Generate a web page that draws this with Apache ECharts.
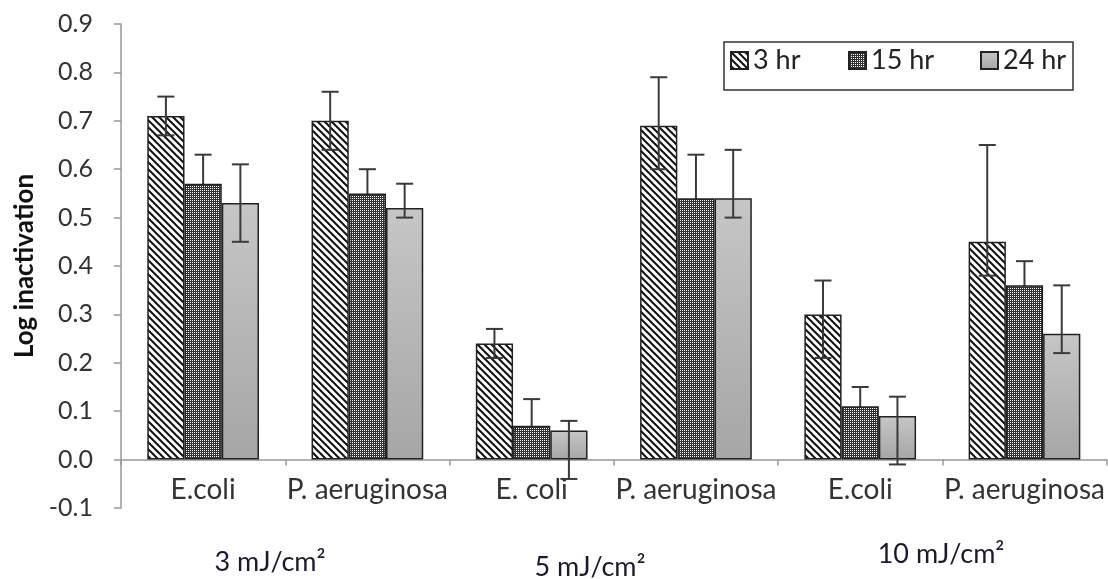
<!DOCTYPE html>
<html>
<head>
<meta charset="utf-8">
<script src="https://cdn.jsdelivr.net/npm/echarts@6/dist/echarts.min.js"></script>
<style>
  html, body { margin: 0; padding: 0; background: #fff; }
  #chart { width: 1108px; height: 579px; }
</style>
</head>
<body>
<div id="chart"></div>
<script>
// Organisms tested at each UV dose
const categories = ['E.coli', 'P. aeruginosa', 'E. coli', 'P. aeruginosa', 'E.coli', 'P. aeruginosa'];
const doseLabels = ['3 mJ/cm²', '5 mJ/cm²', '10 mJ/cm²'];
const seriesNames = ['3 hr', '15 hr', '24 hr'];

// Mean log inactivation
const hr3 = [0.71, 0.70, 0.24, 0.69, 0.30, 0.45];
const hr15 = [0.57, 0.55, 0.07, 0.54, 0.11, 0.36];
const hr24 = [0.53, 0.52, 0.06, 0.54, 0.09, 0.26];

// Error bar bounds (lower, upper)
const hr3Low = [0.67, 0.64, 0.21, 0.60, 0.21, 0.38];
const hr3High = [0.75, 0.76, 0.27, 0.79, 0.37, 0.65];
const hr15Low = [0.51, 0.50, 0.015, 0.45, 0.07, 0.31];
const hr15High = [0.63, 0.60, 0.125, 0.63, 0.15, 0.41];
const hr24Low = [0.45, 0.50, -0.04, 0.50, -0.01, 0.22];
const hr24High = [0.61, 0.57, 0.08, 0.64, 0.13, 0.36];

// Y axis range
const yMin = -0.1, yMax = 0.9, yStep = 0.1;

const FONT = 'Lato, "Open Sans", sans-serif';

// Fill patterns
function stripeTile() {
  const s = 7;
  const c = document.createElement('canvas');
  c.width = s; c.height = s;
  const g = c.getContext('2d');
  g.fillStyle = '#fff'; g.fillRect(0, 0, s, s);
  g.strokeStyle = '#111'; g.lineWidth = 2;
  g.beginPath();
  g.moveTo(-1, -1); g.lineTo(s + 1, s + 1);
  g.moveTo(s - 2, -2); g.lineTo(s + 2, 2);
  g.moveTo(-2, s - 2); g.lineTo(2, s + 2);
  g.stroke();
  return c;
}
function dotTile() {
  const c = document.createElement('canvas');
  c.width = 2; c.height = 2;
  const g = c.getContext('2d');
  g.fillStyle = '#333'; g.fillRect(0, 0, 2, 2);
  g.fillStyle = '#fff'; g.fillRect(0, 0, 1, 1);
  return c;
}

const fills = [
  { image: stripeTile(), repeat: 'repeat' },
  { image: dotTile(), repeat: 'repeat' },
  { type: 'linear', x: 0, y: 0, x2: 0, y2: 1,
    colorStops: [{ offset: 0, color: '#c6c6c6' }, { offset: 1, color: '#a6a6a6' }] }
];

const values = [hr3, hr15, hr24];
const lows = [hr3Low, hr15Low, hr24Low];
const highs = [hr3High, hr15High, hr24High];
const CAT_GAP = 0.32;

const barSeries = seriesNames.map((name, k) => ({
  name,
  type: 'bar',
  data: values[k],
  barGap: '0%',
  barCategoryGap: (CAT_GAP * 100) + '%',
  itemStyle: { color: fills[k], borderColor: '#222', borderWidth: 1.5 },
  z: 2
}));

function errorRenderer(k) {
  return function (params, api) {
    const i = api.value(0);
    const band = api.size([1, 0])[0];
    const bw = band * (1 - CAT_GAP) / 3;
    const cx = api.coord([i, 0])[0] + (k - 1) * bw;
    const yLo = api.coord([i, api.value(1)])[1];
    const yHi = api.coord([i, api.value(2)])[1];
    const half = 8.5;
    const style = { stroke: '#3a3a3a', lineWidth: 2 };
    return {
      type: 'group',
      children: [
        { type: 'line', shape: { x1: cx, y1: yLo, x2: cx, y2: yHi }, style },
        { type: 'line', shape: { x1: cx - half, y1: yHi, x2: cx + half, y2: yHi }, style },
        { type: 'line', shape: { x1: cx - half, y1: yLo, x2: cx + half, y2: yLo }, style }
      ]
    };
  };
}

const errorSeries = seriesNames.map((name, k) => ({
  name: name + ' error',
  type: 'custom',
  renderItem: errorRenderer(k),
  data: categories.map((c, i) => [i, lows[k][i], highs[k][i]]),
  encode: { x: 0, y: [1, 2] },
  silent: true,
  // the dense dot fill hides the lower half of its error bars
  z: k === 1 ? 1 : 3
}));

const legendLefts = [730, 848, 980];

const chart = echarts.init(document.getElementById('chart'), null, { renderer: 'canvas' });
chart.setOption({
  animation: false,
  backgroundColor: '#fff',
  textStyle: { fontFamily: FONT },
  grid: { left: 121, right: 1, top: 24, bottom: 71, containLabel: false },
  legend: seriesNames.map((name, k) => ({
    data: [name],
    left: legendLefts[k],
    top: 47,
    padding: 0,
    icon: 'rect',
    itemWidth: 17,
    itemHeight: 17,
    textStyle: { fontSize: 27, color: '#222', fontFamily: FONT },
    selectedMode: false
  })),
  xAxis: {
    type: 'category',
    data: categories,
    axisLine: { onZero: true, lineStyle: { color: '#999', width: 1.5 } },
    axisTick: { show: true, alignWithLabel: false, length: 6, lineStyle: { color: '#999', width: 1.5 } },
    axisLabel: { fontSize: 28, color: '#333', margin: -32, fontFamily: FONT, interval: 0 },
    splitLine: { show: false }
  },
  yAxis: {
    type: 'value',
    min: yMin,
    max: yMax,
    interval: yStep,
    name: 'Log inactivation',
    nameLocation: 'middle',
    nameGap: 82,
    nameTextStyle: { fontSize: 26, fontWeight: 'bold', color: '#111', fontFamily: FONT },
    axisLine: { show: true, lineStyle: { color: '#999', width: 1.5 } },
    axisTick: { show: true, length: 7, lineStyle: { color: '#999', width: 1.5 } },
    axisLabel: { fontSize: 25, color: '#333', margin: 28, fontFamily: FONT,
      formatter: v => v.toFixed(1) },
    splitLine: { show: false }
  },
  graphic: [
    { type: 'rect', shape: { x: 724, y: 42, width: 349, height: 48 },
      style: { fill: 'none', stroke: '#333', lineWidth: 1.5 }, z: 10 },
    { type: 'text', x: 270, y: 562, style: { text: doseLabels[0], font: '27px ' + FONT, fill: '#1a1a2e', textAlign: 'center', textVerticalAlign: 'middle' } },
    { type: 'text', x: 590, y: 567, style: { text: doseLabels[1], font: '27px ' + FONT, fill: '#1a1a2e', textAlign: 'center', textVerticalAlign: 'middle' } },
    { type: 'text', x: 941, y: 554, style: { text: doseLabels[2], font: '27px ' + FONT, fill: '#1a1a2e', textAlign: 'center', textVerticalAlign: 'middle' } }
  ],
  series: [...barSeries, ...errorSeries]
});
</script>
</body>
</html>
